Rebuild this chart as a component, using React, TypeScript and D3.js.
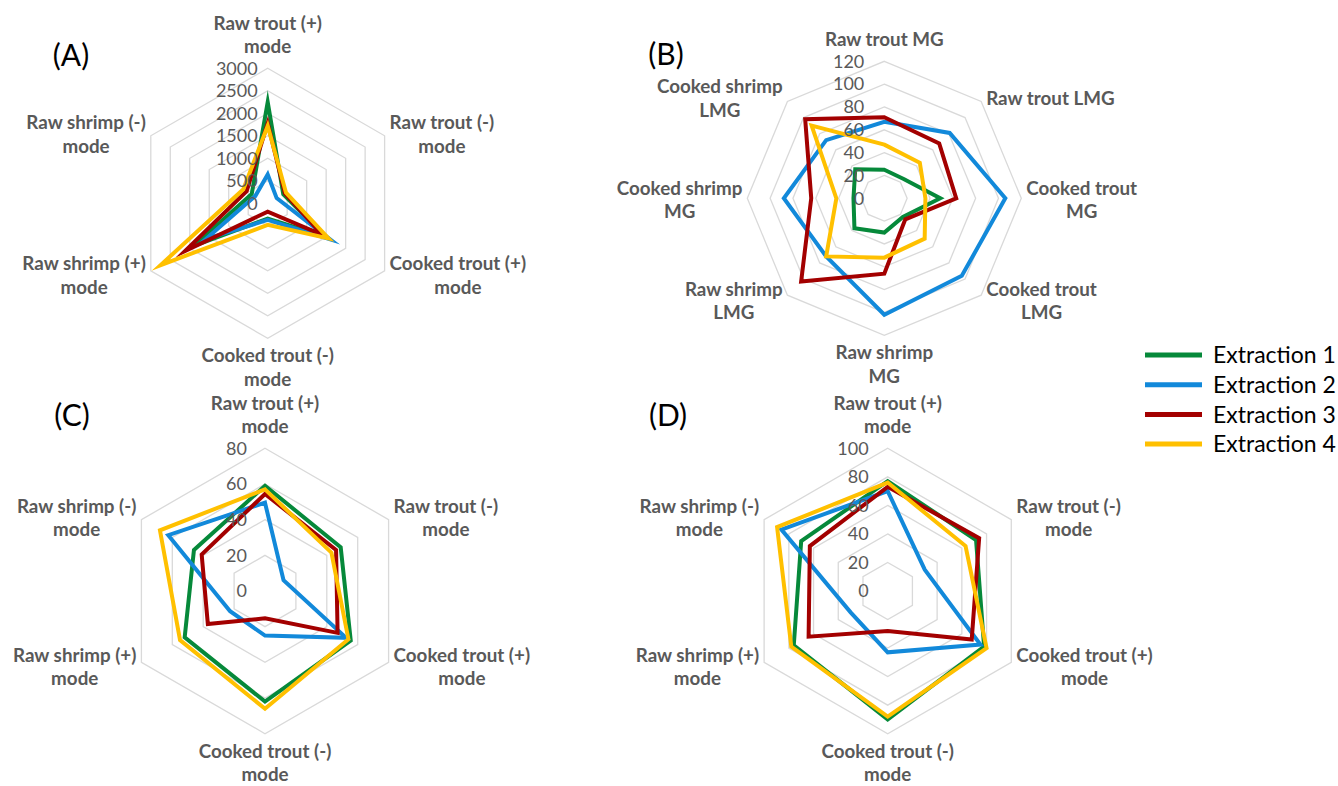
import React, { useEffect, useRef } from "react";
import * as d3 from "d3";

// ---------- data ----------
const seriesNames = ["Extraction 1", "Extraction 2", "Extraction 3", "Extraction 4"];
const seriesColors = ["#06893A", "#1289DA", "#A30000", "#FFC000"];

const modeAxes: string[][] = [
  ["Raw trout (+)", "mode"],
  ["Raw trout (-)", "mode"],
  ["Cooked trout (+)", "mode"],
  ["Cooked trout (-)", "mode"],
  ["Raw shrimp (+)", "mode"],
  ["Raw shrimp (-)", "mode"],
];
const lipidAxes: string[][] = [
  ["Raw trout MG"],
  ["Raw trout LMG"],
  ["Cooked trout", "MG"],
  ["Cooked trout", "LMG"],
  ["Raw shrimp", "MG"],
  ["Raw shrimp", "LMG"],
  ["Cooked shrimp", "MG"],
  ["Cooked shrimp", "LMG"],
];

const ticksA = [0, 500, 1000, 1500, 2000, 2500, 3000];
const ticksB = [0, 20, 40, 60, 80, 100, 120];
const ticksC = [0, 20, 40, 60, 80];
const ticksD = [0, 20, 40, 60, 80, 100];

const aExt1 = [2250, 400, 1480, 340, 1900, 410];
const aExt2 = [640, 230, 1600, 370, 1580, 320];
const aExt3 = [1780, 440, 1400, 185, 2120, 540];
const aExt4 = [1720, 470, 1560, 480, 2750, 625];

const bExt1 = [25, 24, 49, 23, 30, 37, 27, 36];
const bExt2 = [67, 81, 106, 96, 102, 72, 88, 72];
const bExt3 = [71, 68, 63, 26, 66, 103, 64, 98];
const bExt4 = [47, 44, 36, 50, 52, 72, 42, 90];

const cExt1 = [59, 49, 55.5, 62, 52, 46];
const cExt2 = [49.5, 12, 52.5, 25, 22.6, 62.6];
const cExt3 = [54.4, 46, 47, 15.3, 37, 41];
const cExt4 = [57, 43, 54, 66, 55, 68];

const dExt1 = [77, 71.5, 78, 90, 76, 70];
const dExt2 = [70, 30, 75, 43, 30, 86];
const dExt3 = [73, 74, 68, 28, 64, 63];
const dExt4 = [76, 63, 80, 88, 78, 89.5];

// ---------- layout ----------
const panels = [
  { title: "(A)", tx: 71, ty: 66, cx: 267.7, cy: 203.3, R: 135, ticks: ticksA, axes: modeAxes, series: [aExt1, aExt2, aExt3, aExt4], tickOff: 10 },
  { title: "(B)", tx: 666, ty: 65, cx: 884.3, cy: 198.3, R: 137, ticks: ticksB, axes: lipidAxes, series: [bExt1, bExt2, bExt3, bExt4], tickOff: 20 },
  { title: "(C)", tx: 72, ty: 426, cx: 265, cy: 591, R: 142.7, ticks: ticksC, axes: modeAxes, series: [cExt1, cExt2, cExt3, cExt4], tickOff: 18 },
  { title: "(D)", tx: 668, ty: 426, cx: 887.7, cy: 591, R: 142.7, ticks: ticksD, axes: modeAxes, series: [dExt1, dExt2, dExt3, dExt4], tickOff: 19 },
];

const FONT = "Lato, 'Open Sans', sans-serif";
const LABEL_COLOR = "#595959";

export default function App() {
  const ref = useRef<SVGSVGElement | null>(null);

  useEffect(() => {
    const svg = d3.select(ref.current);
    svg.selectAll("*").remove();

    panels.forEach((p) => {
      const n = p.axes.length;
      const max = p.ticks[p.ticks.length - 1];
      const r = d3.scaleLinear().domain([0, max]).range([0, p.R]);
      const ang = (i: number) => (i * 2 * Math.PI) / n;
      const g = svg.append("g").attr("transform", `translate(${p.cx},${p.cy})`);

      // rings
      const ringLine = d3
        .lineRadial<number>()
        .angle((_, i) => ang(i))
        .radius((d) => d)
        .curve(d3.curveLinearClosed);
      p.ticks
        .filter((t) => t > 0)
        .forEach((t) => {
          g.append("path")
            .attr("d", ringLine(d3.range(n).map(() => r(t))))
            .attr("fill", "none")
            .attr("stroke", "#D9D9D9")
            .attr("stroke-width", 1.3);
        });

      // series
      const seriesLine = d3
        .lineRadial<number>()
        .angle((_, i) => ang(i))
        .radius((d) => r(d))
        .curve(d3.curveLinearClosed);
      p.series.forEach((vals, si) => {
        g.append("path")
          .attr("d", seriesLine(vals))
          .attr("fill", "none")
          .attr("stroke", seriesColors[si])
          .attr("stroke-width", 4)
          .attr("stroke-linejoin", "miter")
          .attr("stroke-miterlimit", 10);
      });

      // tick labels
      p.ticks.forEach((t) => {
        g.append("text")
          .attr("x", -p.tickOff)
          .attr("y", -r(t))
          .attr("dy", "0.35em")
          .attr("text-anchor", "end")
          .attr("font-family", FONT)
          .attr("font-size", 18)
          .attr("fill", LABEL_COLOR)
          .text(String(t));
      });

      // axis labels
      p.axes.forEach((lines, i) => {
        const a = ang(i);
        const dx = Math.sin(a);
        const dy = -Math.cos(a);
        const vx = dx * p.R;
        const vy = dy * p.R;
        const t = g
          .append("text")
          .attr("font-family", FONT)
          .attr("font-size", 18.8)
          .attr("font-weight", 700)
          .attr("fill", LABEL_COLOR)
          .attr("text-anchor", "middle");
        const spans = lines.map((ln) => t.append("tspan").text(ln));
        const widths = spans.map((s) => (s.node() as SVGTSpanElement).getComputedTextLength());
        const w = Math.max(...widths);
        const LH = 23.5;
        let x = vx;
        let baselines: number[] = [];
        if (Math.abs(dx) < 0.01) {
          if (dy < 0) {
            const last = vy - 15;
            baselines = lines.map((_, k) => last - (lines.length - 1 - k) * LH);
          } else {
            const first = vy + 24;
            baselines = lines.map((_, k) => first + k * LH);
          }
        } else {
          x = vx + Math.sign(dx) * (5 + w / 2);
          const mid = vy + 2 + 6 * dy;
          const first = mid + 6 - ((lines.length - 1) * LH) / 2;
          baselines = lines.map((_, k) => first + k * LH);
        }
        spans.forEach((s, k) => s.attr("x", x).attr("y", baselines[k]));
      });

      // title
      svg
        .append("text")
        .attr("x", p.tx)
        .attr("y", p.ty)
        .attr("text-anchor", "middle")
        .attr("font-family", FONT)
        .attr("font-size", 30)
        .attr("fill", "#000")
        .text(p.title);
    });

    // legend
    const lg = svg.append("g");
    seriesNames.forEach((name, i) => {
      const y = 355 + i * 29.7;
      lg.append("line")
        .attr("x1", 1145)
        .attr("x2", 1202)
        .attr("y1", y)
        .attr("y2", y)
        .attr("stroke", seriesColors[i])
        .attr("stroke-width", 5);
      lg.append("text")
        .attr("x", 1213)
        .attr("y", y)
        .attr("dy", "0.36em")
        .attr("font-family", FONT)
        .attr("font-size", 23)
        .attr("fill", "#000")
        .text(name);
    });
  }, []);

  return (
    <svg
      ref={ref}
      width={1338}
      height={786}
      style={{ position: "absolute", left: 0, top: 0, background: "#fff" }}
    />
  );
}
